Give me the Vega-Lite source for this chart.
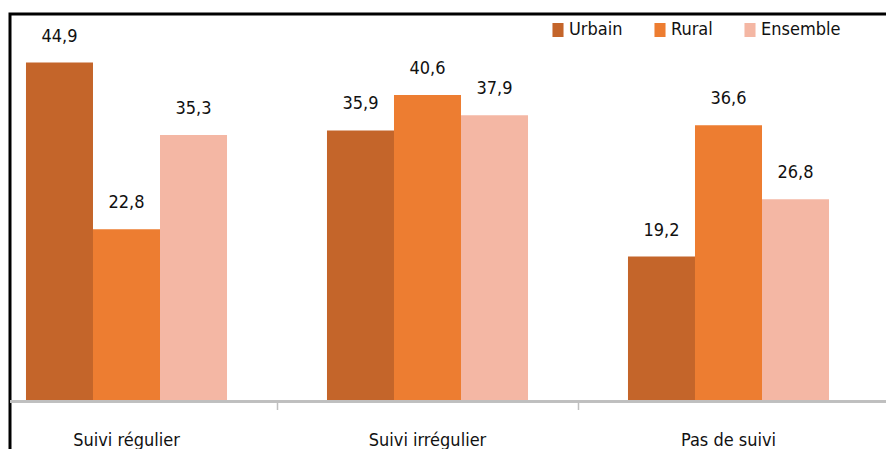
{
  "$schema": "https://vega.github.io/schema/vega-lite/v6.json",
  "autosize": {"type": "none"},
  "padding": {"left": 10, "top": 14, "right": -30, "bottom": -30},
  "width": 906,
  "height": 465,
  "background": "white",
  "config": {
    "view": {"stroke": "#000000", "strokeWidth": 3},
    "font": "DejaVu Sans Condensed, sans-serif"
  },
  "data": {
    "values": [
      {"cat": "Suivi régulier", "grp": "Urbain", "val": 44.9, "txt": "44,9"},
      {"cat": "Suivi régulier", "grp": "Rural", "val": 22.8, "txt": "22,8"},
      {"cat": "Suivi régulier", "grp": "Ensemble", "val": 35.3, "txt": "35,3"},
      {"cat": "Suivi irrégulier", "grp": "Urbain", "val": 35.9, "txt": "35,9"},
      {"cat": "Suivi irrégulier", "grp": "Rural", "val": 40.6, "txt": "40,6"},
      {"cat": "Suivi irrégulier", "grp": "Ensemble", "val": 37.9, "txt": "37,9"},
      {"cat": "Pas de suivi", "grp": "Urbain", "val": 19.2, "txt": "19,2"},
      {"cat": "Pas de suivi", "grp": "Rural", "val": 36.6, "txt": "36,6"},
      {"cat": "Pas de suivi", "grp": "Ensemble", "val": 26.8, "txt": "26,8"}
    ]
  },
  "layer": [
    {
      "mark": {"type": "bar"},
      "encoding": {
        "x": {
          "field": "cat",
          "type": "nominal",
          "sort": ["Suivi régulier", "Suivi irrégulier", "Pas de suivi"],
          "scale": {"range": [-34, 869], "paddingInner": 0, "paddingOuter": 0},
          "axis": {
            "title": null,
            "grid": false,
            "offset": -77.5,
            "domain": false,
            "tickColor": "#BFBFBF",
            "tickWidth": 1.5,
            "tickSize": 8,
            "bandPosition": 0,
            "tickExtra": false,
            "labelAngle": 0,
            "labelFontSize": 18,
            "labelFont": "DejaVu Sans Condensed, sans-serif",
            "labelColor": "#111111",
            "labelBaseline": "alphabetic",
            "labelPadding": 36,
            "labelBound": false,
            "labelOverlap": false
          }
        },
        "xOffset": {
          "field": "grp",
          "type": "nominal",
          "sort": ["Urbain", "Rural", "Ensemble"],
          "scale": {"paddingOuter": 0.746, "paddingInner": 0}
        },
        "y": {
          "field": "val",
          "type": "quantitative",
          "scale": {"domain": [0, 50], "range": [387.5, 10], "nice": false, "zero": true},
          "axis": null
        },
        "color": {
          "field": "grp",
          "type": "nominal",
          "sort": ["Urbain", "Rural", "Ensemble"],
          "scale": {"domain": ["Urbain", "Rural", "Ensemble"], "range": ["#C4652A", "#ED7D31", "#F4B7A4"]},
          "legend": {
            "orient": "none",
            "legendX": 539,
            "legendY": 7,
            "direction": "horizontal",
            "title": null,
            "symbolType": "M-0.79,-1H0.79V1H-0.79Z",
            "symbolSize": 196,
            "symbolStrokeWidth": 0,
            "labelFontSize": 18,
            "labelFont": "DejaVu Sans Condensed, sans-serif",
            "labelColor": "#111111",
            "labelOffset": 2,
            "columnPadding": 28,
            "padding": 0
          }
        }
      }
    },
    {
      "mark": {"type": "text", "dy": -21, "baseline": "alphabetic", "fontSize": 18, "color": "#111111"},
      "encoding": {
        "x": {"field": "cat", "type": "nominal", "sort": ["Suivi régulier", "Suivi irrégulier", "Pas de suivi"]},
        "xOffset": {"field": "grp", "type": "nominal", "sort": ["Urbain", "Rural", "Ensemble"]},
        "y": {"field": "val", "type": "quantitative"},
        "text": {"field": "txt"}
      }
    },
    {
      "mark": {"type": "rule", "color": "#BFBFBF", "strokeWidth": 2},
      "encoding": {"y": {"datum": 0, "type": "quantitative"}}
    }
  ]
}
